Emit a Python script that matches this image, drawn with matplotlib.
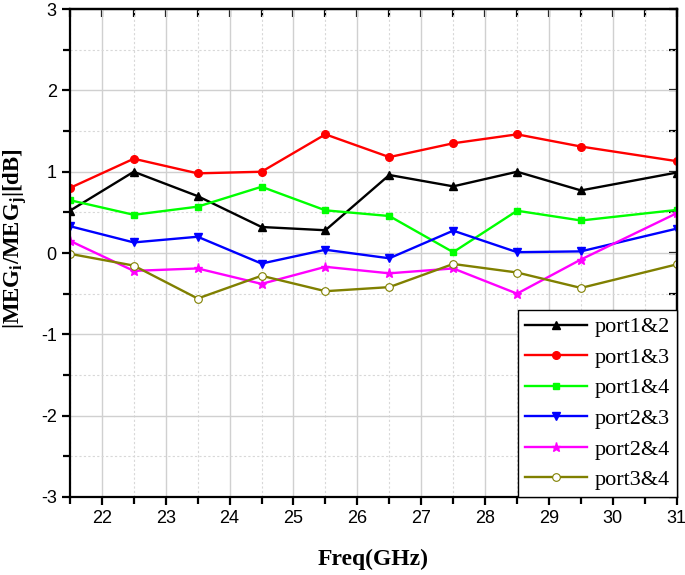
import matplotlib
matplotlib.use('Agg')
import matplotlib.pyplot as plt
from matplotlib.ticker import MultipleLocator

freq = [21.5, 22.5, 23.5, 24.5, 25.5, 26.5, 27.5, 28.5, 29.5, 31]

p12 = [0.52, 1.00, 0.70, 0.32, 0.28, 0.96, 0.82, 1.00, 0.77, 0.99]
p13 = [0.80, 1.16, 0.98, 1.00, 1.46, 1.18, 1.35, 1.46, 1.31, 1.13]
p14 = [0.65, 0.47, 0.57, 0.815, 0.525, 0.455, 0.01, 0.52, 0.40, 0.53]
p23 = [0.33, 0.13, 0.20, -0.13, 0.04, -0.065, 0.275, 0.01, 0.02, 0.30]
p24 = [0.15, -0.22, -0.19, -0.38, -0.17, -0.25, -0.19, -0.50, -0.08, 0.49]
p34 = [-0.01, -0.155, -0.56, -0.28, -0.47, -0.42, -0.135, -0.24, -0.43, -0.14]

labels = ['port1&2', 'port1&3', 'port1&4', 'port2&3', 'port2&4', 'port3&4']

plt.rcParams['font.family'] = 'Liberation Sans'
plt.rcParams['axes.unicode_minus'] = False
plt.rcParams['mathtext.fontset'] = 'custom'
plt.rcParams['mathtext.rm'] = 'Liberation Serif:bold'
plt.rcParams['mathtext.bf'] = 'Liberation Serif:bold'

fig = plt.figure(figsize=(6.85, 5.75), dpi=100)
ax = fig.add_axes([0.102, 0.136, 0.886, 0.848])

lw = 1.7
ax.plot(freq, p12, color='black', marker='^', ms=5.5, lw=lw, label=labels[0])
ax.plot(freq, p13, color='#ff0000', marker='o', ms=5.5, lw=lw, label=labels[1])
ax.plot(freq, p14, color='#00ff00', marker='s', ms=5, lw=lw, label=labels[2])
ax.plot(freq, p23, color='#0000ff', marker='v', ms=6, lw=lw, label=labels[3])
ax.plot(freq, p24, color='#ff00ff', marker='*', ms=6.5, lw=lw, label=labels[4])
ax.plot(freq, p34, color='#808000', marker='o', ms=5.5, lw=lw, mfc='white',
        mec='#808000', mew=0.8, label=labels[5])

ax.set_xlim(21.5, 31)
ax.set_ylim(-3, 3)
ax.xaxis.set_major_locator(MultipleLocator(1))
ax.xaxis.set_minor_locator(MultipleLocator(0.5))
ax.yaxis.set_major_locator(MultipleLocator(1))
ax.yaxis.set_minor_locator(MultipleLocator(0.5))

ax.grid(True, which='major', color='#d0d0d0', lw=1.0, ls='-')
ax.grid(True, which='minor', color='#d8d8d8', lw=0.8, ls=(0, (2, 2)))
ax.set_axisbelow(True)

for s in ax.spines.values():
    s.set_linewidth(1.6)

ax.tick_params(which='both', direction='out', width=1.6, labelsize=13,
               top=False, right=False)
ax.tick_params(which='major', length=6)
ax.tick_params(which='minor', length=5)

# mirrored ticks pointing inward on top and right
sec_x = ax.secondary_xaxis('top')
sec_x.xaxis.set_major_locator(MultipleLocator(1))
sec_x.xaxis.set_minor_locator(MultipleLocator(0.5))
sec_x.tick_params(which='both', direction='in', length=6, width=1.6, labeltop=False)
sec_y = ax.secondary_yaxis('right')
sec_y.yaxis.set_major_locator(MultipleLocator(1))
sec_y.yaxis.set_minor_locator(MultipleLocator(0.5))
sec_y.tick_params(which='both', direction='in', length=6, width=1.6, labelright=False)
for s in list(sec_x.spines.values()) + list(sec_y.spines.values()):
    s.set_linewidth(1.6)

ax.set_xticks(range(22, 32))
ax.set_xticklabels([str(t) for t in range(22, 32)])
ax.set_xlabel('Freq(GHz)', fontfamily='Liberation Serif', fontweight='bold',
              fontsize=17, labelpad=16)
ax.set_ylabel(r'|MEG$_\mathbf{i}$/MEG$_\mathbf{j}$|[dB]', fontfamily='Liberation Serif',
              fontweight='bold', fontsize=16.5)
ax.yaxis.set_label_coords(-0.066, 0.53)

leg = ax.legend(loc='lower right', bbox_to_anchor=(1, 0), borderaxespad=0,
                fancybox=False, edgecolor='black', framealpha=1,
                prop={'family': 'Liberation Serif', 'size': 16},
                handlelength=2.8, labelspacing=0.45, borderpad=0.3,
                handletextpad=0.35)
leg.get_frame().set_linewidth(1.0)

fig.savefig('out.png', dpi=100)
